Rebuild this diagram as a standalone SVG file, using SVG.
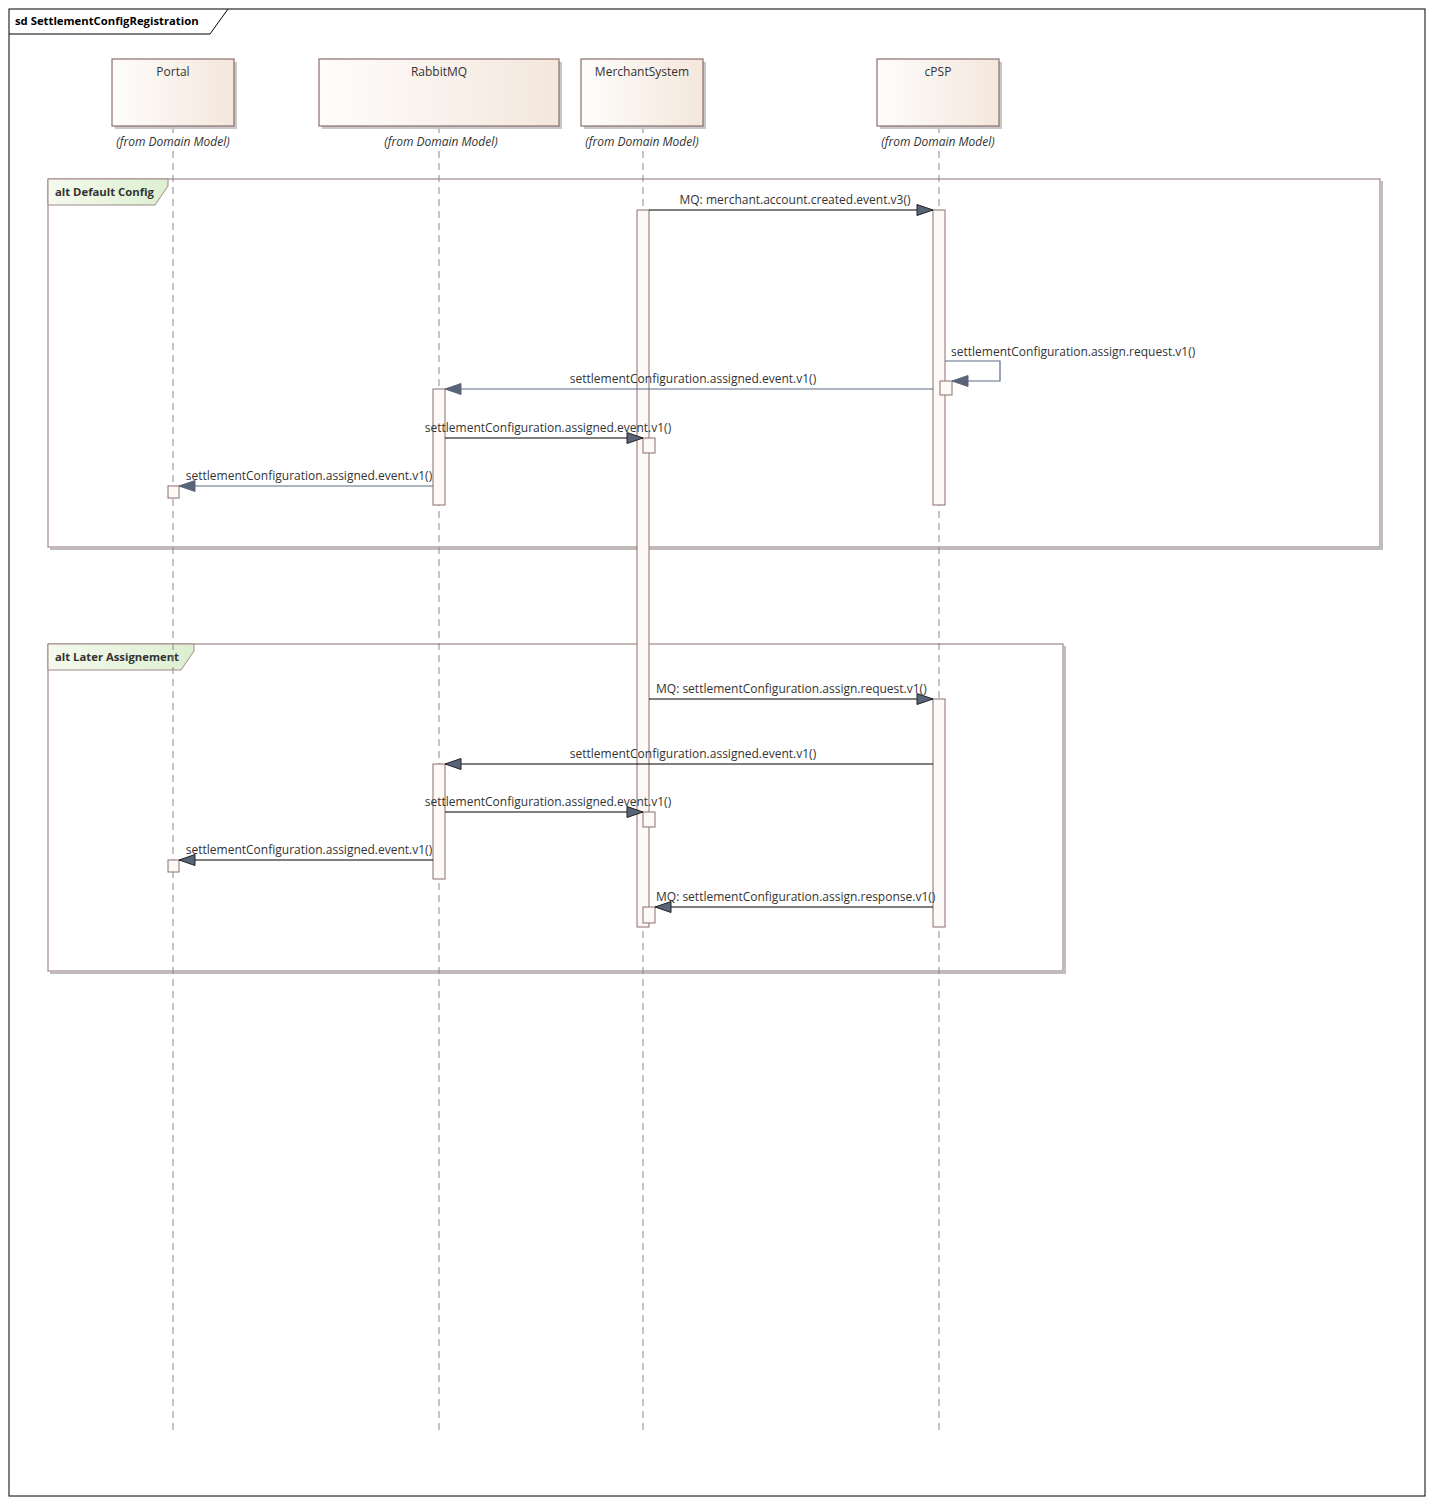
<svg xmlns="http://www.w3.org/2000/svg" width="1433" height="1504" viewBox="0 0 1433 1504">
<style>
text{font-family:"Open Sans","Liberation Sans","DejaVu Sans",sans-serif;font-size:12px;fill:#333}
.lbl{text-anchor:middle}
.from{font-style:italic;text-anchor:middle;font-size:12px}
.life{stroke:#8a8a8a;stroke-width:1;stroke-dasharray:7,5;fill:none}
.box{fill:url(#g);stroke:#8b6f6f;stroke-width:1.2}
.shadow{fill:#c8c8c8}
.act{fill:#fdf9f6;stroke:#8b6f6f;stroke-width:1}
.frame{fill:none;stroke:#a08888;stroke-width:1.2}
.fshadow{fill:none;stroke:#bdbdbd;stroke-width:2}
.tab{fill:url(#gt);stroke:#a08888;stroke-width:1}
.tabt{font-weight:bold;font-size:11.3px}
.msg{stroke:#000;stroke-width:1.2;fill:none}
.ret{stroke:#5c6b85;stroke-width:1.2;fill:none}
</style>
<defs>
<linearGradient id="g" x1="0" y1="0" x2="1" y2="0"><stop offset="0" stop-color="#fefdfc"/><stop offset="1" stop-color="#f4e7dc"/></linearGradient>
<linearGradient id="gt" x1="0" y1="0" x2="1" y2="0"><stop offset="0" stop-color="#f4faee"/><stop offset="1" stop-color="#ddefd0"/></linearGradient>
<marker id="ah" markerWidth="18" markerHeight="13" refX="17" refY="6.5" orient="auto" markerUnits="userSpaceOnUse"><path d="M1,1 L17,6.5 L1,12 Z" fill="#5a6478" stroke="#222" stroke-width="1"/></marker>
<marker id="ahr" markerWidth="18" markerHeight="13" refX="17" refY="6.5" orient="auto" markerUnits="userSpaceOnUse"><path d="M1,1 L17,6.5 L1,12 Z" fill="#5a6478" stroke="#5a6478" stroke-width="1"/></marker>
</defs>
<rect x="0" y="0" width="1433" height="1504" fill="#fff"/>
<g id="diagram-frame">
<rect x="9" y="9" width="1416" height="1487" fill="none" stroke="#000" stroke-width="1"/>
<path d="M9,34 L210,34 L228,9" fill="none" stroke="#000" stroke-width="1"/>
<text x="15" y="25" style="font-weight:bold;font-size:11.3px;fill:#000">sd SettlementConfigRegistration</text>
</g>
<g id="frame-default">
<path class="fshadow" d="M50,549 L1382,549 L1382,181"/>
<rect class="frame" x="48" y="179" width="1332" height="368"/>
<path class="tab" d="M48,179 L168,179 L168,186 L155,205 L48,205 Z"/>
<text class="tabt" x="55" y="196">alt Default Config</text>
</g>
<g id="frame-later">
<path class="fshadow" d="M50,973 L1065,973 L1065,646"/>
<rect class="frame" x="48" y="644" width="1015" height="327"/>
<path class="tab" d="M48,644 L194,644 L194,651 L181,670 L48,670 Z"/>
<text class="tabt" x="55" y="661">alt Later Assignement</text>
</g>
<g id="lifelines">
<line class="life" x1="173" y1="127" x2="173" y2="1432"/>
<line class="life" x1="439" y1="127" x2="439" y2="1432"/>
<line class="life" x1="643" y1="127" x2="643" y2="1432"/>
<line class="life" x1="939" y1="127" x2="939" y2="1432"/>
</g>
<g id="portal">
<rect class="shadow" x="115" y="62" width="122" height="67"/>
<rect class="box" x="112" y="59" width="122" height="67"/>
<text class="lbl" x="173" y="76">Portal</text>
<rect x="110" y="133" width="126" height="16" fill="#fff"/>
<text class="from" x="173" y="146">(from Domain Model)</text>
</g>
<g id="rabbitmq">
<rect class="shadow" x="322" y="62" width="240" height="67"/>
<rect class="box" x="319" y="59" width="240" height="67"/>
<text class="lbl" x="439" y="76">RabbitMQ</text>
<rect x="376" y="133" width="126" height="16" fill="#fff"/>
<text class="from" x="441" y="146">(from Domain Model)</text>
</g>
<g id="merchantsystem">
<rect class="shadow" x="584" y="62" width="122" height="67"/>
<rect class="box" x="581" y="59" width="122" height="67"/>
<text class="lbl" x="642" y="76">MerchantSystem</text>
<rect x="580" y="133" width="126" height="16" fill="#fff"/>
<text class="from" x="642" y="146">(from Domain Model)</text>
</g>
<g id="cpsp">
<rect class="shadow" x="880" y="62" width="122" height="67"/>
<rect class="box" x="877" y="59" width="122" height="67"/>
<text class="lbl" x="938" y="76">cPSP</text>
<rect x="876" y="133" width="126" height="16" fill="#fff"/>
<text class="from" x="938" y="146">(from Domain Model)</text>
</g>
<g id="activations">
<rect class="act" x="637" y="210" width="12" height="717"/>
<rect class="act" x="933" y="210" width="12" height="295"/>
<rect class="act" x="940" y="381" width="12" height="14"/>
<rect class="act" x="433" y="389" width="12" height="116"/>
<rect class="act" x="643" y="438" width="12" height="15"/>
<rect class="act" x="168" y="486" width="11" height="12"/>
<rect class="act" x="933" y="699" width="12" height="228"/>
<rect class="act" x="433" y="764" width="12" height="115"/>
<rect class="act" x="643" y="812" width="12" height="15"/>
<rect class="act" x="168" y="860" width="11" height="12"/>
<rect class="act" x="643" y="907" width="12" height="16"/>
</g>
<g id="connectors">
<line class="msg" x1="649" y1="210" x2="933" y2="210" marker-end="url(#ah)"/>
<text class="lbl" x="795" y="204">MQ: merchant.account.created.event.v3()</text>
<path class="ret" d="M945,361 L1000,361 L1000,381 L952,381" marker-end="url(#ahr)"/>
<text x="951" y="356">settlementConfiguration.assign.request.v1()</text>
<line class="ret" x1="933" y1="389" x2="445" y2="389" marker-end="url(#ahr)"/>
<text class="lbl" x="693" y="383">settlementConfiguration.assigned.event.v1()</text>
<line class="msg" x1="445" y1="438" x2="643" y2="438" marker-end="url(#ah)"/>
<text class="lbl" x="548" y="432">settlementConfiguration.assigned.event.v1()</text>
<line class="ret" x1="433" y1="486" x2="179" y2="486" marker-end="url(#ahr)"/>
<text class="lbl" x="309" y="480">settlementConfiguration.assigned.event.v1()</text>
<line class="msg" x1="649" y1="699" x2="933" y2="699" marker-end="url(#ah)"/>
<text x="656" y="693">MQ: settlementConfiguration.assign.request.v1()</text>
<line class="msg" x1="933" y1="764" x2="445" y2="764" marker-end="url(#ah)"/>
<text class="lbl" x="693" y="758">settlementConfiguration.assigned.event.v1()</text>
<line class="msg" x1="445" y1="812" x2="643" y2="812" marker-end="url(#ah)"/>
<text class="lbl" x="548" y="806">settlementConfiguration.assigned.event.v1()</text>
<line class="msg" x1="433" y1="860" x2="179" y2="860" marker-end="url(#ah)"/>
<text class="lbl" x="309" y="854">settlementConfiguration.assigned.event.v1()</text>
<line class="msg" x1="933" y1="907" x2="655" y2="907" marker-end="url(#ah)"/>
<text x="656" y="901">MQ: settlementConfiguration.assign.response.v1()</text>
</g>
</svg>
